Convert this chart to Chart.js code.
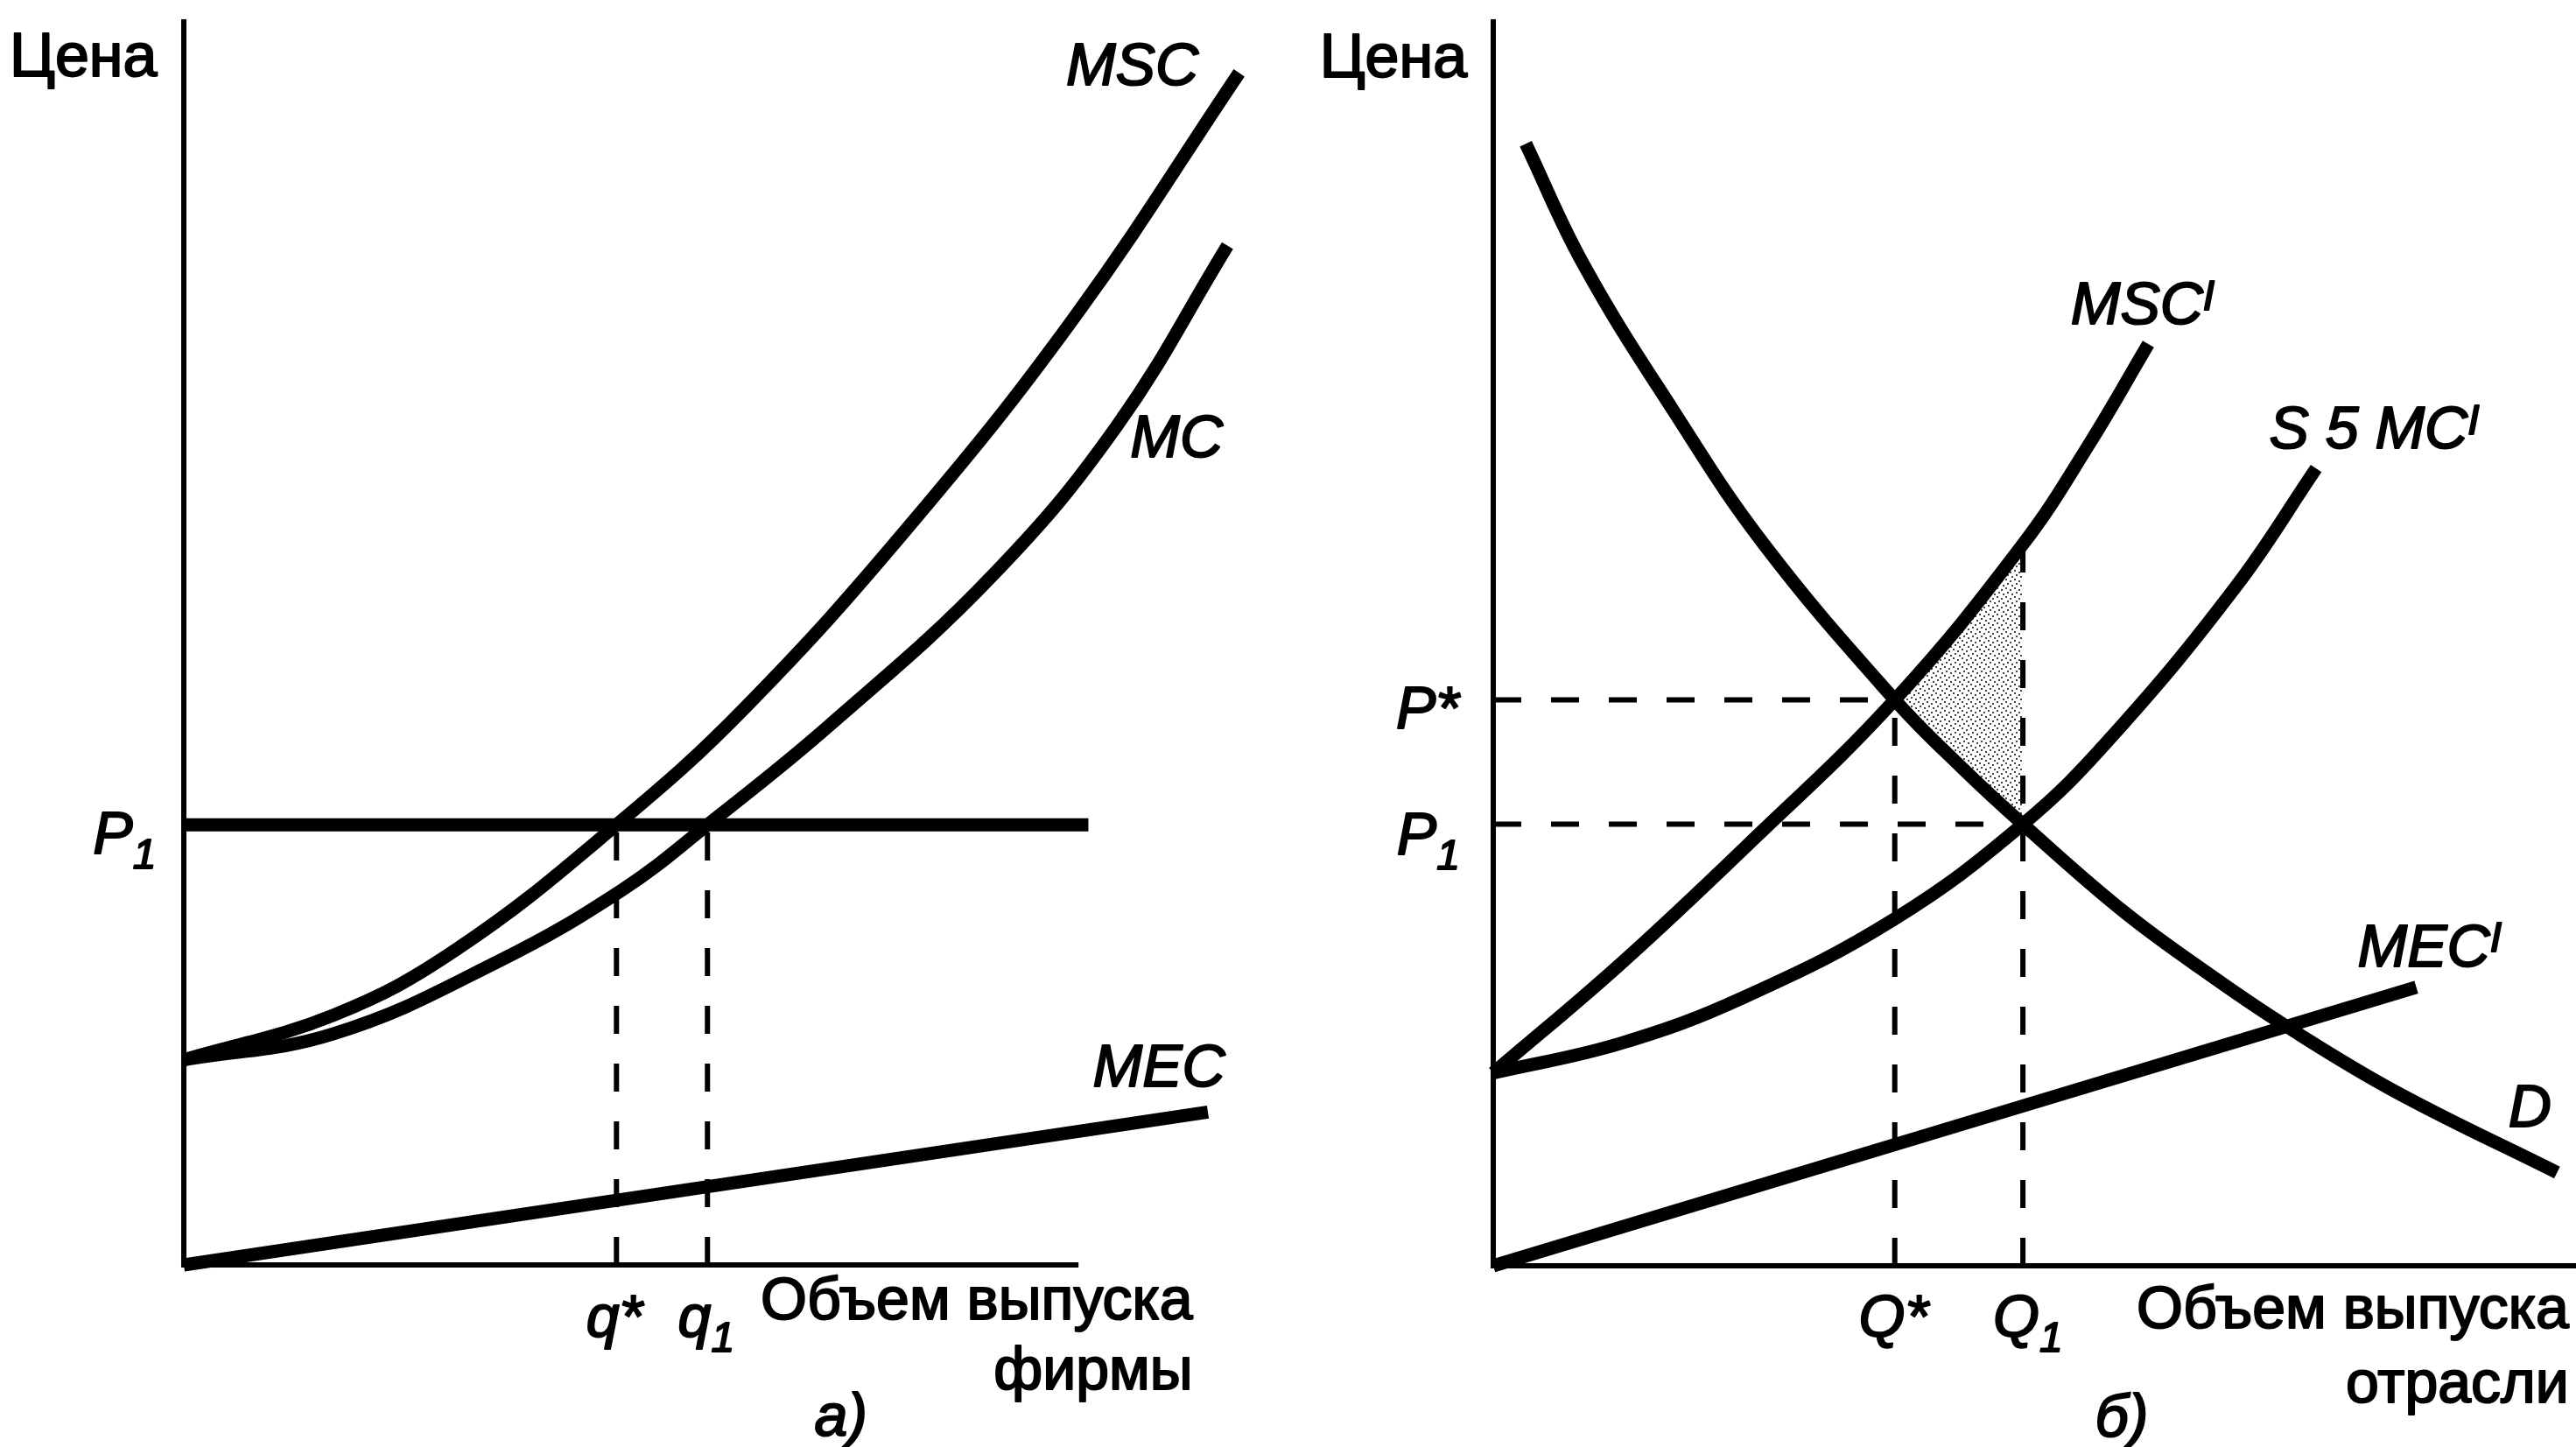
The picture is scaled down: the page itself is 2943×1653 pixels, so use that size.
<!DOCTYPE html>
<html>
<head>
<meta charset="utf-8">
<script src="https://cdn.jsdelivr.net/npm/chart.js@4.4.0/dist/chart.umd.min.js"></script>
<style>
  html, body { margin: 0; padding: 0; background: #fff; }
  body { width: 2943px; height: 1653px; position: relative; overflow: hidden; }
  canvas { position: absolute; top: 0; }
  #firmChart { left: 0; }
  #industryChart { left: 1480px; }
</style>
</head>
<body>
<canvas id="firmChart" width="1480" height="1653"></canvas>
<canvas id="industryChart" width="1463" height="1653"></canvas>
<script>
// Panel a) – a single firm. Quantity on x, price on y (arbitrary units).
const firmMscQ = [0, 1.68, 3.06, 4.85, 6.30, 8.15, 10.0, 11.83];
const firmMscP = [1.65, 2.01, 2.54, 3.54, 4.49, 5.96, 7.64, 9.59];
const firmMcQ = [0, 1.68, 3.52, 4.92, 5.87, 7.22, 9.07, 10.46, 11.70];
const firmMcP = [1.65, 1.86, 2.44, 3.02, 3.54, 4.33, 5.55, 6.75, 8.20];
const firmMecQ = [0, 11.48];
const firmMecP = [0, 1.23];
const firmP1 = 3.54;
const firmP1End = 10.14;
const firmQStar = 4.85;
const firmQ1 = 5.87;
const firmAxisEnd = 10;

// Panel б) – the industry.
const indDemandQ = [0.36, 1.0, 2.0, 3.0, 4.45, 5.2, 5.87, 7.0, 8.0, 8.78, 10.0, 11.79];
const indDemandP = [9.02, 8.05, 6.87, 5.80, 4.55, 4.00, 3.55, 2.84, 2.31, 1.93, 1.40, 0.75];
const indMscQ = [0, 1.4, 2.8, 4.45, 5.87, 6.6, 7.26];
const indMscP = [1.55, 2.42, 3.37, 4.55, 5.8, 6.6, 7.41];
const indSupplyQ = [0, 1.42, 2.78, 4.45, 5.87, 6.85, 8.22, 9.12];
const indSupplyP = [1.55, 1.79, 2.16, 2.79, 3.55, 4.25, 5.45, 6.41];
const indMecQ = [0, 10.23];
const indMecP = [0, 2.24];
const indQStar = 4.45;
const indPStar = 4.55;
const indQ1 = 5.87;
const indP1 = 3.55;
const indAxisEnd = 12;

const FONT = "'Liberation Sans', Arial, Helvetica, sans-serif";

const toPoints = (qs, ps) => qs.map((q, i) => ({ x: q, y: ps[i] }));

const curve = (qs, ps) => ({
  data: toPoints(qs, ps),
  showLine: true,
  borderColor: '#000',
  borderWidth: 15,
  pointRadius: 0,
  tension: 0.4,
  clip: false
});

const dashed = (points) => ({
  data: points,
  showLine: true,
  borderColor: '#000',
  borderWidth: 6,
  borderDash: [32, 34],
  pointRadius: 0,
  clip: false
});

// Small dotted tile used for the deadweight-loss area.
const makeStipple = () => {
  const c = document.createElement('canvas');
  c.width = 10;
  c.height = 10;
  const g = c.getContext('2d');
  g.fillStyle = '#fff';
  g.fillRect(0, 0, 10, 10);
  g.fillStyle = '#444';
  [[1, 1], [6, 3], [3, 6], [8, 8]].forEach(([x, y]) => g.fillRect(x, y, 2, 2));
  return g.createPattern(c, 'repeat');
};

// Axes and text, placed through the chart scales.
const diagramPlugin = {
  id: 'diagram',
  beforeDatasetsDraw(chart, args, opts) {
    const { ctx, scales: { x, y } } = chart;
    ctx.save();
    ctx.strokeStyle = '#000';
    ctx.lineWidth = 6;
    ctx.lineCap = 'square';
    ctx.beginPath();
    ctx.moveTo(x.getPixelForValue(0), y.getPixelForValue(y.max));
    ctx.lineTo(x.getPixelForValue(0), y.getPixelForValue(0));
    ctx.lineTo(x.getPixelForValue(opts.axisEnd), y.getPixelForValue(0));
    ctx.stroke();
    ctx.restore();
  },
  afterDatasetsDraw(chart, args, opts) {
    const { ctx, scales: { x, y } } = chart;
    ctx.save();
    ctx.fillStyle = '#000';
    ctx.strokeStyle = '#000';
    ctx.lineWidth = 2;
    ctx.lineJoin = 'round';
    ctx.textBaseline = 'alphabetic';
    opts.labels.forEach(lab => {
      const size = lab.size || 68;
      const style = lab.italic ? 'italic ' : '';
      const parts = lab.parts.map(p => {
        const s = p.sub || p.sup ? Math.round(size * 0.7) : size;
        ctx.font = `${style}${s}px ${FONT}`;
        return { ...p, s, w: ctx.measureText(p.t).width };
      });
      const total = parts.reduce((a, p) => a + p.w, 0);
      let px = x.getPixelForValue(lab.x);
      if (lab.align === 'right') px -= total;
      const py = y.getPixelForValue(lab.y);
      parts.forEach(p => {
        ctx.font = `${style}${p.s}px ${FONT}`;
        const dy = p.sub ? size * 0.25 : p.sup ? -size * 0.24 : 0;
        ctx.fillText(p.t, px, py + dy);
        ctx.strokeText(p.t, px, py + dy);
        px += p.w;
      });
    });
    ctx.restore();
  }
};

const baseOptions = (padding, axisEnd, labels) => ({
  responsive: false,
  animation: false,
  devicePixelRatio: 1,
  events: [],
  layout: { padding, autoPadding: false },
  scales: {
    x: { type: 'linear', min: 0, max: 12, display: false },
    y: { type: 'linear', min: 0, max: 10, display: false }
  },
  plugins: {
    legend: { display: false },
    tooltip: { enabled: false },
    diagram: { axisEnd, labels }
  }
});

const firmLabels = [
  { parts: [{ t: 'Цена' }], x: -0.30, y: 9.56, align: 'right', size: 70 },
  { parts: [{ t: 'MSC' }], x: 9.89, y: 9.49, italic: true },
  { parts: [{ t: 'MC' }], x: 10.61, y: 6.50, italic: true },
  { parts: [{ t: 'MEC' }], x: 10.19, y: 1.44, italic: true },
  { parts: [{ t: 'P' }, { t: '1', sub: true }], x: -0.31, y: 3.31, align: 'right', italic: true },
  { parts: [{ t: 'q' }, { t: '*' }], x: 4.51, y: -0.58, italic: true },
  { parts: [{ t: 'q' }, { t: '1', sub: true }], x: 5.54, y: -0.58, italic: true },
  { parts: [{ t: 'Объем выпуска' }], x: 11.31, y: -0.44, align: 'right' },
  { parts: [{ t: 'фирмы' }], x: 11.31, y: -1.0, align: 'right' },
  { parts: [{ t: 'а)' }], x: 7.07, y: -1.37, italic: true }
];

const industryLabels = [
  { parts: [{ t: 'Цена' }], x: -0.29, y: 9.56, align: 'right', size: 70 },
  { parts: [{ t: 'MSC' }, { t: 'I', sup: true }], x: 6.40, y: 7.57, italic: true },
  { parts: [{ t: 'S 5 MC' }, { t: 'I', sup: true }], x: 8.60, y: 6.57, italic: true },
  { parts: [{ t: 'MEC' }, { t: 'I', sup: true }], x: 9.58, y: 2.41, italic: true },
  { parts: [{ t: 'D' }], x: 11.25, y: 1.12, italic: true },
  { parts: [{ t: 'P' }, { t: '*' }], x: -0.38, y: 4.32, align: 'right', italic: true },
  { parts: [{ t: 'P' }, { t: '1', sub: true }], x: -0.37, y: 3.31, align: 'right', italic: true },
  { parts: [{ t: 'Q' }, { t: '*' }], x: 4.05, y: -0.57, italic: true },
  { parts: [{ t: 'Q' }, { t: '1', sub: true }], x: 5.54, y: -0.57, italic: true },
  { parts: [{ t: 'Объем выпуска' }], x: 11.92, y: -0.50, align: 'right' },
  { parts: [{ t: 'отрасли' }], x: 11.92, y: -1.10, align: 'right' },
  { parts: [{ t: 'б)' }], x: 6.67, y: -1.37, italic: true }
];

// Shaded area: up MSC from Q* to Q1, then back along D.
const shadeTop = indMscQ
  .map((q, i) => ({ x: q, y: indMscP[i] }))
  .filter(p => p.x >= indQStar && p.x <= indQ1);
const shadeBottom = indDemandQ
  .map((q, i) => ({ x: q, y: indDemandP[i] }))
  .filter(p => p.x >= indQStar && p.x <= indQ1)
  .reverse();

new Chart(document.getElementById('firmChart'), {
  type: 'scatter',
  data: {
    datasets: [
      curve(firmMscQ, firmMscP),
      curve(firmMcQ, firmMcP),
      curve(firmMecQ, firmMecP),
      curve([0, firmP1End], [firmP1, firmP1]),
      dashed([{ x: firmQStar, y: 0 }, { x: firmQStar, y: firmP1 }]),
      dashed([{ x: firmQ1, y: 0 }, { x: firmQ1, y: firmP1 }])
    ]
  },
  options: baseOptions({ left: 210, right: 47, top: 25, bottom: 208 }, firmAxisEnd, firmLabels),
  plugins: [diagramPlugin]
});

new Chart(document.getElementById('industryChart'), {
  type: 'scatter',
  data: {
    datasets: [
      {
        data: shadeTop.concat(shadeBottom),
        showLine: true,
        borderWidth: 0,
        pointRadius: 0,
        fill: 'shape',
        backgroundColor: makeStipple(),
        order: 10
      },
      curve(indDemandQ, indDemandP),
      curve(indMscQ, indMscP),
      curve(indSupplyQ, indSupplyP),
      curve(indMecQ, indMecP),
      dashed([{ x: 0, y: indPStar }, { x: indQStar, y: indPStar }]),
      dashed([{ x: 0, y: indP1 }, { x: indQ1, y: indP1 }]),
      dashed([{ x: indQStar, y: 0 }, { x: indQStar, y: indPStar }]),
      dashed([{ x: indQ1, y: 0 }, { x: indQ1, y: shadeTop[shadeTop.length - 1].y }])
    ]
  },
  options: baseOptions({ left: 226, right: 0, top: 25, bottom: 207 }, indAxisEnd, industryLabels),
  plugins: [diagramPlugin]
});
</script>
</body>
</html>
